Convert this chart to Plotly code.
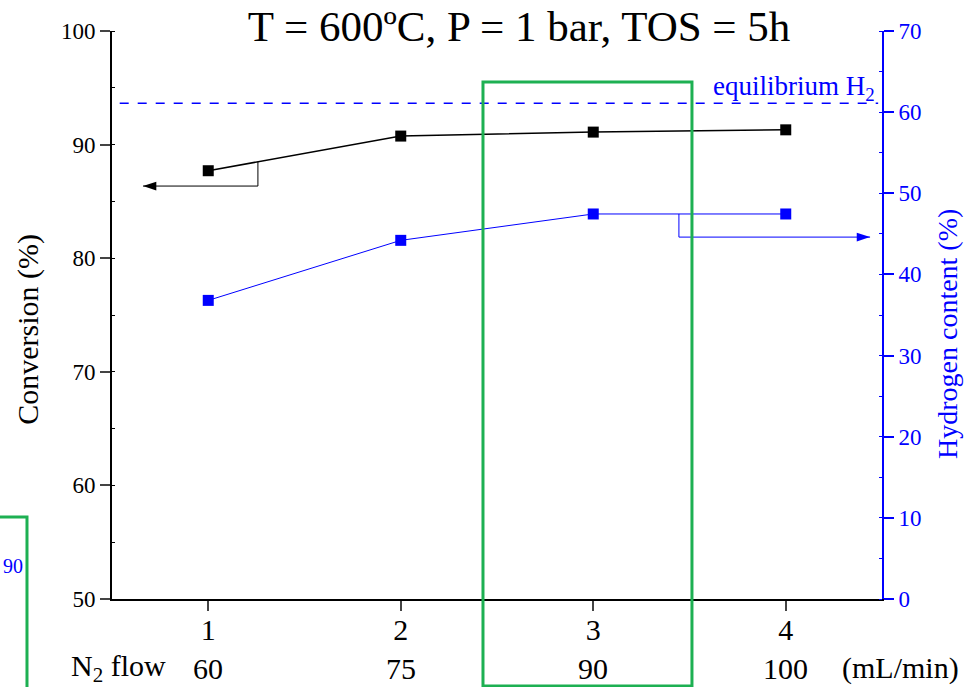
import plotly.graph_objects as go

# Run index and corresponding N2 flow
runs = [1, 2, 3, 4]
n2_flow = ["60", "75", "90", "100"]

# Measured values at T = 600 ºC, P = 1 bar, TOS = 5 h
conversion = [87.7, 90.75, 91.1, 91.3]          # %, left axis
hydrogen = [36.8, 44.2, 47.45, 47.45]           # %, right axis
equilibrium_h2 = 61.1                           # %, right axis

SERIF = "Liberation Serif"
BLUE = "#0000ff"
GREEN = "#1db052"

fig = go.Figure()

fig.add_trace(go.Scatter(
    x=runs, y=conversion, mode="lines+markers",
    line=dict(color="black", width=1.5),
    marker=dict(symbol="square", size=11, color="black"),
    yaxis="y", showlegend=False, hoverinfo="x+y",
))
fig.add_trace(go.Scatter(
    x=runs, y=hydrogen, mode="lines+markers",
    line=dict(color=BLUE, width=1),
    marker=dict(symbol="square", size=11, color=BLUE),
    yaxis="y2", showlegend=False, hoverinfo="x+y",
))

# equilibrium hydrogen level
fig.add_shape(type="line", xref="paper", yref="y2", x0=0.01, x1=0.995,
              y0=equilibrium_h2, y1=equilibrium_h2,
              line=dict(color=BLUE, width=1.5, dash="dash"))
fig.add_annotation(xref="paper", yref="y2", x=0.993, y=equilibrium_h2,
                   text="equilibrium H<sub>2</sub>", showarrow=False,
                   xanchor="right", yanchor="bottom", yshift=-4,
                   font=dict(family=SERIF, size=27, color=BLUE))


def on_line(xs, ys, xq):
    for i in range(len(xs) - 1):
        if xs[i] <= xq <= xs[i + 1]:
            t = (xq - xs[i]) / (xs[i + 1] - xs[i])
            return ys[i] + t * (ys[i + 1] - ys[i])
    return ys[-1]


def pointer(x_start, y_level, x_tip, xs, ys, axis, color, angle):
    """Elbow pointer from a curve to the axis it belongs to."""
    fig.add_trace(go.Scatter(
        x=[x_start, x_start, x_tip], y=[on_line(xs, ys, x_start), y_level, y_level],
        mode="lines", line=dict(color=color, width=1), yaxis=axis,
        showlegend=False, hoverinfo="skip",
    ))
    fig.add_trace(go.Scatter(
        x=[x_tip], y=[y_level], mode="markers", yaxis=axis,
        marker=dict(symbol="arrow", size=14, angle=angle, color=color,
                    line=dict(width=0)),
        showlegend=False, hoverinfo="skip",
    ))


pointer(1.258, 86.35, 0.661, runs, conversion, "y", "black", 270)
pointer(3.445, 44.6, 4.438, runs, hydrogen, "y2", BLUE, 90)

# highlighted run
fig.add_shape(type="rect", xref="paper", yref="paper",
              x0=0.4818, x1=0.7532, y0=-0.153, y1=0.910,
              line=dict(color=GREEN, width=3), fillcolor="rgba(0,0,0,0)")
# neighbouring panel edge
fig.add_shape(type="rect", xref="paper", yref="paper",
              x0=-0.17, x1=-0.1104, y0=-0.2, y1=0.1444,
              line=dict(color=GREEN, width=3), fillcolor="rgba(0,0,0,0)")
fig.add_annotation(xref="paper", yref="paper", x=-0.1286, y=0.058,
                   text="90", showarrow=False, xanchor="center",
                   yanchor="middle",
                   font=dict(family=SERIF, size=20, color=BLUE))

# second row of category labels: N2 flow
ROW2_Y = -0.122
for r, lab in zip(runs, n2_flow):
    fig.add_annotation(xref="x", yref="paper", x=r, y=ROW2_Y, text=lab,
                       showarrow=False, xanchor="center", yanchor="middle",
                       font=dict(family=SERIF, size=30, color="black"))
fig.add_annotation(xref="paper", yref="paper", x=0.009, y=ROW2_Y,
                   text="N<sub>2</sub> flow", showarrow=False,
                   xanchor="center", yanchor="middle",
                   font=dict(family=SERIF, size=30, color="black"))
fig.add_annotation(xref="paper", yref="paper", x=1.0234, y=ROW2_Y,
                   text="(mL/min)", showarrow=False,
                   xanchor="center", yanchor="middle",
                   font=dict(family=SERIF, size=30, color="black"))

# axis titles
fig.add_annotation(xref="paper", yref="paper", x=-0.109, y=0.474,
                   text="Conversion (%)", textangle=-90, showarrow=False,
                   xanchor="center", yanchor="middle",
                   font=dict(family=SERIF, size=30, color="black"))
fig.add_annotation(xref="paper", yref="paper", x=1.0844, y=0.4665,
                   text="Hydrogen content (%)", textangle=-90, showarrow=False,
                   xanchor="center", yanchor="middle",
                   font=dict(family=SERIF, size=28, color=BLUE))

fig.update_layout(
    width=967, height=687,
    margin=dict(l=112, r=85, t=31, b=88),
    paper_bgcolor="white", plot_bgcolor="white",
    font=dict(family=SERIF, size=23, color="black"),
    title=dict(text="T = 600ºC, P = 1 bar, TOS = 5h", x=0.5286, xref="paper",
               xanchor="center", y=0.962, yanchor="middle",
               font=dict(family=SERIF, size=43, color="black")),
    xaxis=dict(range=[0.5, 4.5], tickvals=runs, ticks="outside", ticklen=10,
               tickwidth=2, showline=True, linewidth=2, linecolor="black",
               showgrid=False, zeroline=False, ticklabelstandoff=-7,
               tickfont=dict(family=SERIF, size=30)),
    yaxis=dict(range=[50, 100], tickvals=[50, 60, 70, 80, 90, 100],
               ticks="outside", ticklen=10, tickwidth=2, showline=True,
               linewidth=2, linecolor="black", showgrid=False, zeroline=False,
               minor=dict(dtick=5, ticks="inside", ticklen=3, tickwidth=1,
                          tickcolor="black"),
               tickfont=dict(family=SERIF, size=23)),
    yaxis2=dict(range=[0, 70], tickvals=[0, 10, 20, 30, 40, 50, 60, 70],
                overlaying="y", side="right", ticks="outside", ticklen=10,
                tickwidth=2, showline=True, linewidth=2, linecolor=BLUE,
                tickcolor=BLUE, showgrid=False, zeroline=False,
                minor=dict(dtick=5, ticks="inside", ticklen=3, tickwidth=1,
                           tickcolor=BLUE),
                tickfont=dict(family=SERIF, size=23, color=BLUE)),
)

fig.write_html("out.html")
